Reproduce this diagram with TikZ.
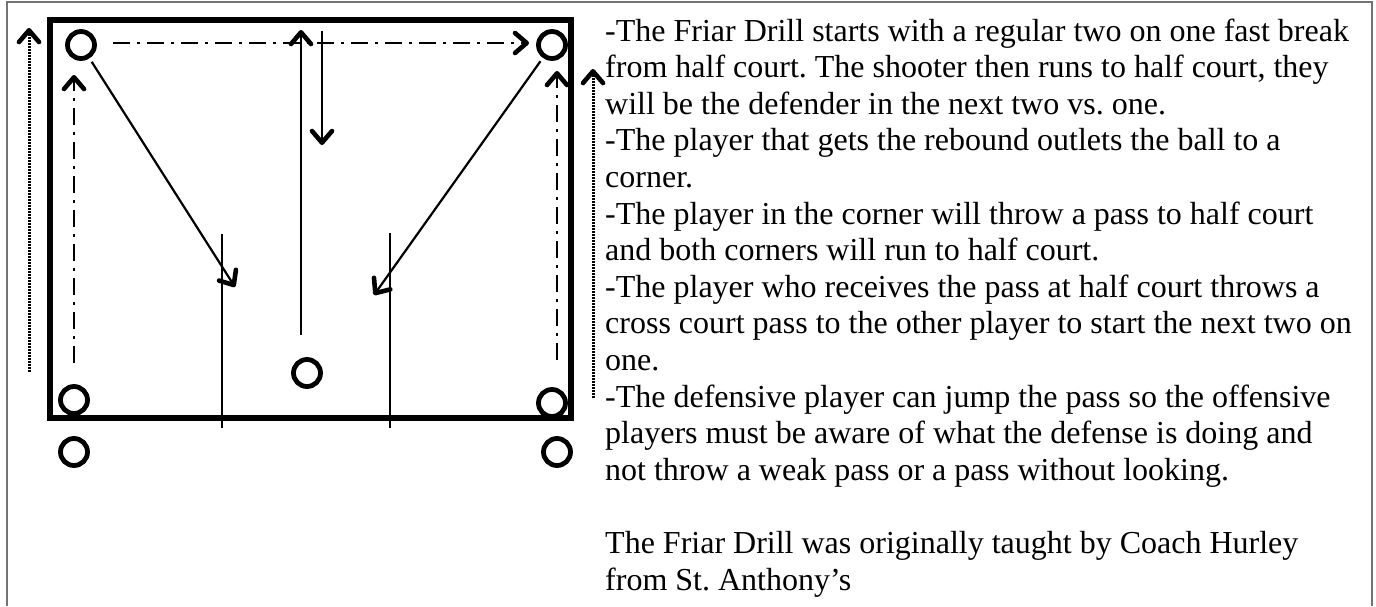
\documentclass[tikz,border=0pt]{standalone}
\usepackage{fontspec}
\setmainfont{Liberation Serif}
\usetikzlibrary{arrows.meta}

% bold open chevron tip with round ends
\pgfdeclarearrow{
  name = Chev,
  setup code = {
    \pgfarrowssettipend{0pt}
    \pgfarrowssetlineend{-6pt}
    \pgfarrowssetvisualbackend{-14pt}
    \pgfarrowssetbackend{-16pt}
    \pgfarrowshullpoint{0pt}{0pt}
    \pgfarrowshullpoint{-16pt}{12pt}
    \pgfarrowshullpoint{-16pt}{-12pt}
  },
  drawing code = {
    \pgfsetlinewidth{4.6pt}
    \pgfsetroundcap
    \pgfsetroundjoin
    \pgfsetdash{}{0pt}
    \pgfpathmoveto{\pgfqpoint{-14pt}{10pt}}
    \pgfpathlineto{\pgfqpoint{-2.3pt}{0pt}}
    \pgfpathlineto{\pgfqpoint{-14pt}{-10pt}}
    \pgfusepathqstroke
  }
}

\tikzset{
  frameline/.style={draw=black!55, line width=1.5pt},
  courtline/.style={line width=6pt, line cap=rect},
  player/.style={circle, draw, line width=4.8pt, minimum size=27pt, inner sep=0pt},
  chev/.style={-{Chev}},
  pass/.style={line width=2.2pt, chev},
  cut/.style={line width=2.4pt, dash pattern=on 17pt off 7pt on 3pt off 7pt, chev},
  jog/.style={line width=3pt, dash pattern=on 1.7pt off 1.3pt, chev},
  lane/.style={line width=1.6pt},
  notes/.style={inner sep=0pt, anchor=base west}
}

\begin{document}
\begin{tikzpicture}[x=1pt, y=-1pt]
  \useasboundingbox (0,0) rectangle (1376,606);

  % outer frame
  \draw[frameline] (7,606) -- (7,2) -- (1372,2) -- (1372,606);

  % half court
  \draw[courtline] (50,20) rectangle (571,418);

  % lane lines
  \coordinate (la) at (222,234); \coordinate (lb) at (222,428);
  \coordinate (ra) at (390,233); \coordinate (rb) at (390,428);
  \draw[lane] (la) -- (lb);
  \draw[lane] (ra) -- (rb);

  % players
  \node[player] (tl) at (81,45) {};
  \node[player] (tr) at (552,45) {};
  \node[player] (bl) at (74,400) {};
  \node[player] (bl2) at (74,452) {};
  \node[player] (br) at (552,403) {};
  \node[player] (br2) at (557,452) {};
  \node[player] (mid) at (307,373) {};

  % cross court pass
  \coordinate (ta) at (113,43); \coordinate (tb) at (529,43);
  \draw[cut] (ta) -- (tb);

  % outlet passes
  \coordinate (dl) at (235,287);
  \coordinate (dr) at (374,295);
  \draw[pass, shorten <=4pt] (tl) -- (dl);
  \draw[pass, shorten <=4pt] (tr) -- (dr);

  % shooter to half court and back
  \coordinate (ua) at (301,335); \coordinate (ub) at (301,30);
  \draw[pass] (ua) -- (ub);
  \coordinate (va) at (322,31); \coordinate (vb) at (322,145);
  \draw[pass] (va) -- (vb);

  % corners fill the wings
  \coordinate (lca) at (74,363); \coordinate (lcb) at (74,75);
  \coordinate (rca) at (557,360); \coordinate (rcb) at (557,71);
  \draw[cut] (lca) -- (lcb);
  \draw[cut] (rca) -- (rcb);

  % runs to half court
  \coordinate (lda) at (29,372); \coordinate (ldb) at (29,28);
  \coordinate (rda) at (593,398); \coordinate (rdb) at (593,69);
  \draw[jog] (lda) -- (ldb);
  \draw[jog] (rda) -- (rdb);

  % description
  \node[notes] (txt) at (605,41) {\parbox[t]{765pt}{%
    \fontsize{32}{36.6}\selectfont\frenchspacing\raggedright
    -The Friar Drill starts with a regular two on one fast break\\
    from half court. The shooter then runs to half court, they\\
    will be the defender in the next two vs. one.\\
    -The player that gets the rebound outlets the ball to a\\
    corner.\\
    -The player in the corner will throw a pass to half court\\
    and both corners will run to half court.\\
    -The player who receives the pass at half court throws a\\
    cross court pass to the other player to start the next two on\\
    one.\\
    -The defensive player can jump the pass so the offensive\\
    players must be aware of what the defense is doing and\\
    not throw a weak pass or a pass without looking.\\
    \mbox{}\\
    The Friar Drill was originally taught by Coach Hurley\\
    from St. Anthony’s}};
\end{tikzpicture}
\end{document}
